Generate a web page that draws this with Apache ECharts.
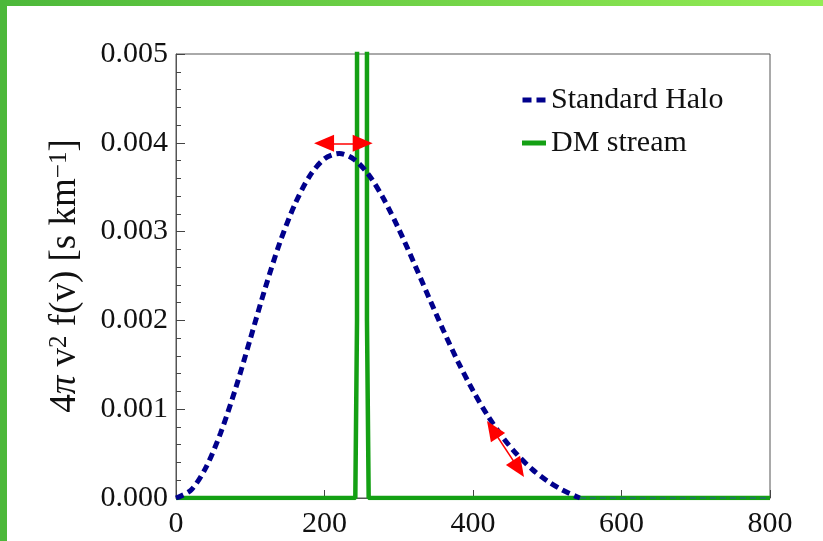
<!DOCTYPE html>
<html>
<head>
<meta charset="utf-8">
<script src="https://cdn.jsdelivr.net/npm/echarts@6/dist/echarts.min.js"></script>
<style>html,body{margin:0;padding:0;background:#fff;}#c{width:823px;height:541px;}</style>
</head>
<body>
<div id="c"></div>
<script>
// Velocity (km/s) and Standard Halo distribution values
const haloV = [0, 20, 40, 60, 80, 100, 120, 140, 160, 180, 200, 220, 240, 260, 280, 300, 320, 340, 360, 380, 400, 420, 440, 460, 480, 500, 520, 540, 544];
const haloF = [0, 0.000087, 0.000339, 0.000731, 0.001226, 0.00179, 0.00236, 0.00288, 0.003305, 0.003625, 0.00382, 0.00388, 0.003813, 0.003634, 0.003364, 0.003029, 0.002657, 0.00227, 0.001889, 0.001531, 0.001209, 0.000925, 0.000684, 0.000484, 0.000321, 0.000192, 0.000091, 0.000013, 0];
// Halo tail (zero beyond escape velocity)
const tailV = [544, 800];
const tailF = [0, 0];
// DM stream: very narrow spike near 250 km/s, far above the axis top
const streamV = [0, 241.5, 243.8, 244.3, 256.7, 257.2, 259.5, 800];
const streamF = [0, 0, 0.002, 0.1, 0.1, 0.002, 0, 0];
// Red double arrows (annotation) [v1, f1, v2, f2]
const arrows = [[199.4, 0.003994, 251.4, 0.003994], [426.3, 0.000774, 461.3, 0.00033]];
const xTicks = [0, 200, 400, 600, 800];
const yTicks = [0.000, 0.001, 0.002, 0.003, 0.004, 0.005];

const zip = (a, b) => a.map((v, i) => [v, b[i]]);
const serif = '"Liberation Serif", "DejaVu Serif", serif';
const chart = echarts.init(document.getElementById('c'));
chart.setOption({
  backgroundColor: '#ffffff',
  animation: false,
  graphic: [
    { type: 'rect', left: 0, top: 0, shape: { width: 823, height: 6 }, z: 100,
      style: { fill: new echarts.graphic.LinearGradient(0, 0, 1, 0, [{ offset: 0, color: '#4cb83a' }, { offset: 1, color: '#94ec54' }]) } },
    { type: 'rect', left: 0, top: 0, shape: { width: 7, height: 541 }, z: 100, style: { fill: '#4cb83a' } }
  ],
  grid: { left: 176, right: 53, top: 54, bottom: 43, show: true, borderColor: '#555', borderWidth: 1 },
  legend: {
    left: 517, top: 80, orient: 'vertical', itemGap: 13, itemWidth: 24, itemHeight: 5,
    textStyle: { fontFamily: serif, fontSize: 30, color: '#111' },
    data: [
      { name: 'Standard Halo', icon: 'path://M0,0h9v5h-9z M14,0h9v5h-9z' },
      { name: 'DM stream', icon: 'rect' }
    ]
  },
  xAxis: {
    type: 'value', min: xTicks[0], max: xTicks[xTicks.length - 1], interval: 200,
    axisLine: { show: true, lineStyle: { color: '#555', width: 1 } },
    axisTick: { show: true, inside: true, length: 8, lineStyle: { color: '#444' } },
    splitLine: { show: false },
    axisLabel: { fontFamily: serif, fontSize: 30, color: '#111', margin: 11 }
  },
  yAxis: {
    type: 'value', min: yTicks[0], max: yTicks[yTicks.length - 1], interval: 0.001,
    axisLine: { show: true, lineStyle: { color: '#555', width: 1 } },
    axisTick: { show: true, inside: true, length: 9, lineStyle: { color: '#444' } },
    minorTick: { show: true, splitNumber: 5, length: 5, lineStyle: { color: '#444' } },
    splitLine: { show: false },
    axisLabel: { fontFamily: serif, fontSize: 30, color: '#111', margin: 8, formatter: v => v.toFixed(3) },
    name: '{n|4}{i|π}{n| v}{s|2}{n| f(v) [s km}{s|−1}{n|]}',
    nameLocation: 'middle', nameGap: 92, nameRotate: 90,
    nameTextStyle: {
      rich: {
        n: { fontFamily: serif, fontSize: 37, fontStyle: 'normal', color: '#111' },
        i: { fontFamily: serif, fontSize: 37, fontStyle: 'italic', color: '#111' },
        s: { fontFamily: serif, fontSize: 25, fontStyle: 'normal', color: '#111', verticalAlign: 'top' }
      }
    }
  },
  series: [
    {
      name: 'DM stream', type: 'line', data: zip(streamV, streamF), showSymbol: false, symbol: 'none',
      clip: true, z: 2,
      lineStyle: { color: '#14a014', width: 4.5 }, itemStyle: { color: '#14a014' }
    },
    {
      name: 'Standard Halo', type: 'line', data: zip(haloV, haloF), showSymbol: false, symbol: 'none',
      smooth: 0.3, z: 3,
      lineStyle: { color: '#00008c', width: 5, type: [8, 5] }, itemStyle: { color: '#00008c' },
      markLine: {
        silent: true, symbol: ['triangle', 'triangle'], symbolSize: [17, 20],
        label: { show: false },
        lineStyle: { color: '#ff0000', width: 1.5, type: 'solid' },
        data: arrows.map(a => [{ coord: [a[0], a[1]] }, { coord: [a[2], a[3]] }])
      }
    },
    {
      name: 'tail', type: 'line', data: zip(tailV, tailF), showSymbol: false, symbol: 'none', z: 4,
      lineStyle: { color: '#1f7a5c', width: 2, type: [6, 4] }
    }
  ]
});
</script>
</body>
</html>
